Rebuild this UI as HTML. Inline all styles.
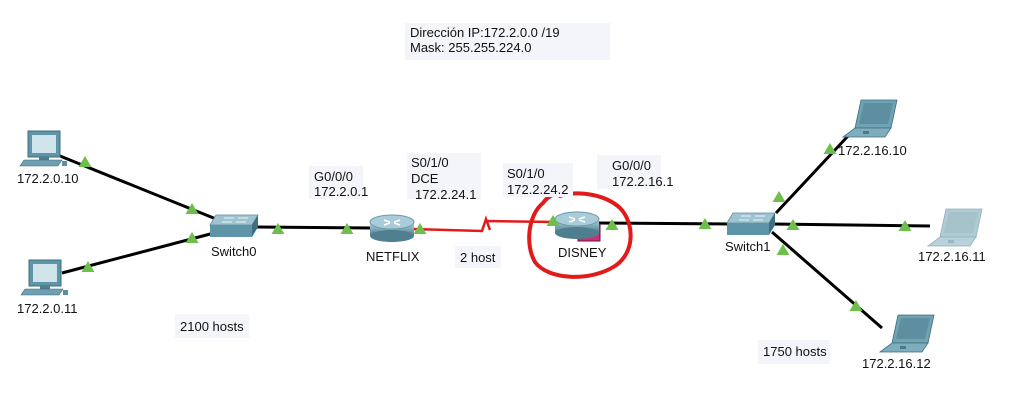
<!DOCTYPE html>
<html><head><meta charset="utf-8"><style>
html,body{margin:0;padding:0;background:#fff;}
svg{display:block;}
text{font-family:"Liberation Sans",Arial,sans-serif;font-size:13px;fill:#111;}
</style></head><body>
<svg width="1015" height="417" viewBox="0 0 1015 417" xmlns="http://www.w3.org/2000/svg">
<defs>
<g id="tri"><polygon points="0,-6 6.5,5 -6.5,5" fill="#6dbf4b"/></g>
<linearGradient id="rg" x1="0" y1="0" x2="0" y2="1"><stop offset="0" stop-color="#c5dde6"/><stop offset="0.5" stop-color="#7ea9b9"/><stop offset="1" stop-color="#4d7b8c"/></linearGradient>
<g id="router">
<rect x="0" y="8" width="44" height="14" fill="url(#rg)"/>
<ellipse cx="22" cy="22" rx="22" ry="6" fill="#4f7e8e"/>
<ellipse cx="22" cy="8" rx="22" ry="7" fill="#a9ccd8" stroke="#6d98a7" stroke-width="1"/>
<path d="M14 6 l6 2 M30 6 l-6 2 M14 11 l6 -2 M30 11 l-6 -2" stroke="#fff" stroke-width="1.5"/>
</g>
<g id="switch">
<polygon points="6,0 48,0 42,10 0,10" fill="#9fc4d1" stroke="#5f8d9c" stroke-width="0.8"/>
<polygon points="0,10 42,10 42,22 0,22" fill="#5e94a8"/>
<polygon points="42,10 48,0 48,12 42,22" fill="#3d6f80"/>
<path d="M14 3 h10 M28 3 h10 M12 7 h10 M26 7 h10" stroke="#e8f2f5" stroke-width="1"/>
</g>
<g id="pc">
<rect x="8" y="0" width="32" height="26" fill="#5f95a6" stroke="#3e6d7c"/>
<rect x="12" y="4" width="24" height="18" fill="#cfe3ea"/>
<rect x="19" y="26" width="10" height="3" fill="#4d7f8f"/>
<polygon points="4,29 42,29 38,35 0,35" fill="#6f9fb0" stroke="#3e6d7c" stroke-width="0.6"/>
<rect x="42" y="30" width="5" height="5" fill="#5f8f9f"/>
</g>
<g id="laptop">
<polygon points="18,0 54,0 48,28 12,28" fill="#6fa3b3" stroke="#3f6f7f" stroke-width="0.8"/>
<polygon points="21,3 50,3 45,24 16,24" fill="#5d8fa0"/>
<polygon points="12,28 48,28 42,37 0,37" fill="#7eaebd" stroke="#3f6f7f" stroke-width="0.8"/>
<rect x="20" y="31" width="6" height="3" fill="#4a7a89"/>
</g>
</defs>

<rect x="405" y="23" width="205" height="37" fill="#f4f4fb"/>
<text x="410" y="37">Dirección IP:172.2.0.0 /19</text>
<text x="410" y="52">Mask: 255.255.224.0</text>

<g stroke="#000" stroke-width="3" fill="none">
<line x1="60" y1="156" x2="216" y2="219"/>
<line x1="62" y1="273" x2="214" y2="233"/>
<line x1="256" y1="227" x2="372" y2="228"/>
<line x1="598" y1="223" x2="732" y2="224"/>
<line x1="776" y1="213" x2="848" y2="136"/>
<line x1="772" y1="224" x2="930" y2="226"/>
<line x1="772" y1="232" x2="882" y2="328"/>
</g>
<path d="M412 229 L482 231 L486 219 L490 230 M486 221 L556 222" fill="none" stroke="#e41a1a" stroke-width="2.5"/>

<use href="#pc" x="20" y="131"/>
<use href="#pc" x="21" y="260"/>
<use href="#switch" x="210" y="215"/>
<use href="#router" x="370" y="214"/>
<rect x="578" y="224" width="22" height="17" fill="#c8307a" stroke="#70123f"/>
<use href="#router" x="555" y="211"/>
<use href="#switch" x="727" y="213"/>
<use href="#laptop" x="843" y="100"/>
<g opacity="0.55"><use href="#laptop" x="928" y="209"/></g>
<use href="#laptop" x="880" y="315"/>

<use href="#tri" x="85" y="162"/>
<use href="#tri" x="192" y="209"/>
<use href="#tri" x="192" y="238"/>
<use href="#tri" x="88" y="267"/>
<use href="#tri" x="278" y="229"/>
<use href="#tri" x="347" y="229"/>
<use href="#tri" x="420" y="229"/>
<use href="#tri" x="553" y="221"/>
<use href="#tri" x="612" y="225"/>
<use href="#tri" x="705" y="224"/>
<use href="#tri" x="779" y="197"/>
<use href="#tri" x="793" y="225"/>
<use href="#tri" x="905" y="226"/>
<use href="#tri" x="783" y="250"/>
<use href="#tri" x="830" y="149"/>
<use href="#tri" x="856" y="306"/>

<path d="M570 190 C562 190 548 195 543 203 C528 215 525 245 535 262 C548 280 590 282 615 266 C636 252 634 222 620 208 C606 195 580 190 560 196" fill="none" stroke="#e11a1a" stroke-width="4" stroke-linecap="round"/>

<text x="17" y="183">172.2.0.10</text>
<text x="17" y="313">172.2.0.11</text>
<text x="211" y="256">Switch0</text>
<text x="366" y="261">NETFLIX</text>
<text x="558" y="257">DISNEY</text>
<text x="725" y="251">Switch1</text>
<text x="838" y="155">172.2.16.10</text>
<text x="918" y="261">172.2.16.11</text>
<text x="862" y="368">172.2.16.12</text>

<rect x="309" y="166" width="54" height="33" fill="#f4f4fb"/>
<text x="314" y="181">G0/0/0</text>
<text x="314" y="196">172.2.0.1</text>

<rect x="407" y="153" width="74" height="46" fill="#f4f4fb"/>
<text x="411" y="167">S0/1/0</text>
<text x="411" y="183">DCE</text>
<text x="415" y="199">172.2.24.1</text>

<rect x="503" y="163" width="70" height="34" fill="#f4f4fb"/>
<text x="507" y="178">S0/1/0</text>
<text x="507" y="194">172.2.24.2</text>

<rect x="597" y="155" width="64" height="34" fill="#f4f4fb"/>
<text x="612" y="170">G0/0/0</text>
<text x="612" y="186">172.2.16.1</text>

<rect x="455" y="246" width="46" height="22" fill="#f4f4fb"/>
<text x="460" y="262">2 host</text>

<rect x="175" y="314" width="74" height="24" fill="#f4f4fb"/>
<text x="180" y="331">2100 hosts</text>

<rect x="758" y="340" width="72" height="24" fill="#f4f4fb"/>
<text x="763" y="356">1750 hosts</text>
</svg>
</body></html>
